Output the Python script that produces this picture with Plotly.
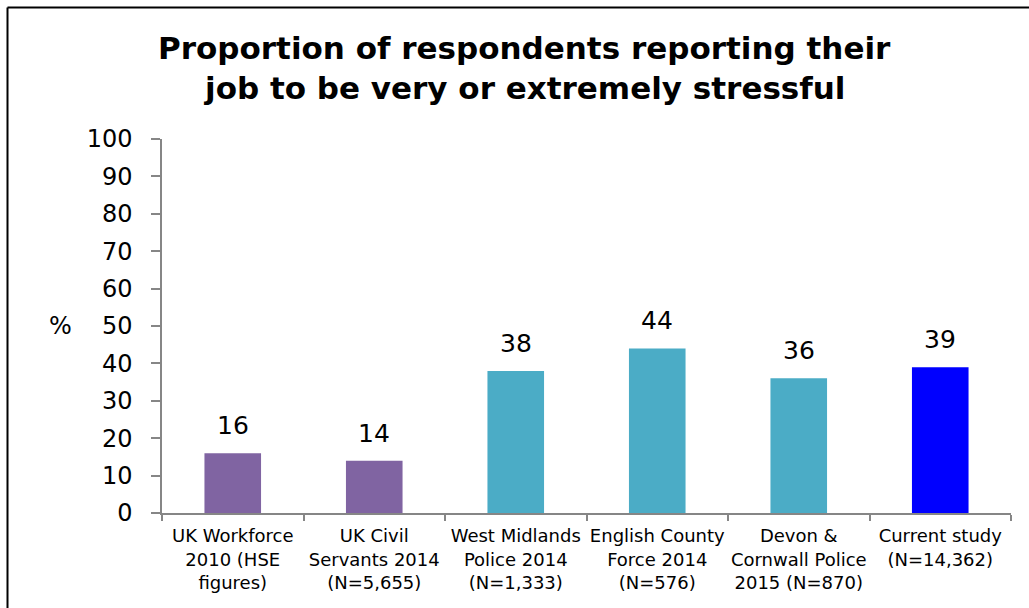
import plotly.graph_objects as go

# Survey sources and the share reporting very/extremely stressful jobs (%)
categories = [
    "UK Workforce<br>2010 (HSE<br>figures)",
    "UK Civil<br>Servants 2014<br>(N=5,655)",
    "West Midlands<br>Police 2014<br>(N=1,333)",
    "English County<br>Force 2014<br>(N=576)",
    "Devon &<br>Cornwall Police<br>2015 (N=870)",
    "Current study<br>(N=14,362)",
]
values = [16, 14, 38, 44, 36, 39]
bar_colors = ["#8064A2", "#8064A2", "#4BACC6", "#4BACC6", "#4BACC6", "#0000FF"]
y_ticks = list(range(0, 101, 10))
title_lines = [
    "Proportion of respondents reporting their",
    "job to be very or extremely stressful",
]

W, H = 1029, 608
L, R, T, B = 162, 18, 139, 95
plot_w = W - L - R
plot_h = H - T - B

FONT = "DejaVu Sans, Verdana, sans-serif"
AXIS_GREY = "#868686"


def px_x(p):
    return (p - L) / plot_w


def px_y(p):
    return (H - B - p) / plot_h


fig = go.Figure(
    go.Bar(
        x=categories,
        y=values,
        marker=dict(color=bar_colors, line=dict(width=0)),
        width=0.4,
        hoverinfo="x+y",
    )
)

# value labels above each bar
for c, v in zip(categories, values):
    fig.add_annotation(
        x=c, y=v, text=str(v), showarrow=False,
        yanchor="bottom", yshift=11,
        font=dict(family=FONT, size=25, color="black"),
    )

# two-line bold title
for i, line in enumerate(title_lines):
    fig.add_annotation(
        xref="paper", yref="paper",
        x=px_x(524), y=px_y(48 + 40 * i),
        text=f"<b>{line}</b>", showarrow=False,
        xanchor="center", yanchor="middle",
        font=dict(family=FONT, size=31, color="black"),
    )

# "%" axis label, horizontal, at the vertical middle of the axis
fig.add_annotation(
    xref="paper", yref="paper",
    x=px_x(60), y=0.5,
    text="%", showarrow=False,
    xanchor="center", yanchor="middle",
    font=dict(family=FONT, size=24, color="black"),
)

# outer frame (left and top edges visible)
fig.add_shape(
    type="line", xref="paper", yref="paper",
    x0=px_x(7.5), x1=px_x(7.5), y0=px_y(7.5), y1=px_y(H + 5),
    line=dict(color="black", width=2),
)
fig.add_shape(
    type="line", xref="paper", yref="paper",
    x0=px_x(7.5), x1=px_x(W + 5), y0=px_y(7.5), y1=px_y(7.5),
    line=dict(color="black", width=2),
)

fig.update_layout(
    width=W, height=H,
    margin=dict(l=L, r=R, t=T, b=B),
    paper_bgcolor="white", plot_bgcolor="white",
    showlegend=False,
    xaxis=dict(
        showline=True, linecolor=AXIS_GREY, linewidth=1.5,
        ticks="outside", tickson="boundaries", ticklen=6,
        tickcolor=AXIS_GREY, tickwidth=1.5,
        tickfont=dict(family=FONT, size=18, color="black"),
        ticklabelstandoff=6,
        showgrid=False, zeroline=False,
        tickangle=0,
    ),
    yaxis=dict(
        range=[0, 100],
        tickvals=y_ticks,
        showline=True, linecolor=AXIS_GREY, linewidth=1.5,
        ticks="outside", ticklen=9, tickcolor=AXIS_GREY, tickwidth=1.5,
        tickfont=dict(family=FONT, size=24, color="black"),
        ticklabelstandoff=14,
        showgrid=False, zeroline=False,
    ),
    bargap=0.6,
)

fig.write_html("out.html")
